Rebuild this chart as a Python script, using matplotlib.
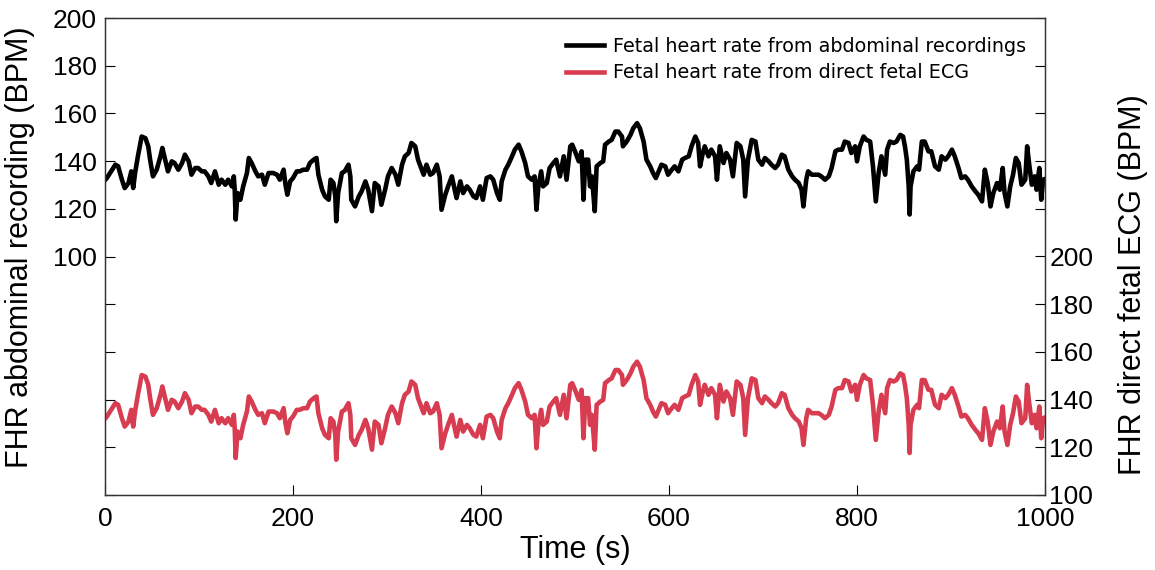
import matplotlib
matplotlib.use("Agg")
from matplotlib import pyplot as plt

# time axis (s) and fetal heart rate (BPM); the abdominal and direct ECG
# estimates coincide at this scale, so one trace feeds both axes
time_s = [
    0, 2, 11, 14, 18, 21, 25, 28, 30, 32, 35, 39, 43, 46, 48, 51, 55, 59, 61, 64,
    67, 71, 74, 78, 82, 85, 89, 92, 96, 99, 103, 106, 110, 113, 117, 121, 124, 128,
    131, 135, 137, 138, 139, 141, 144, 147, 151, 153, 156, 160,
    163, 167, 170, 174, 179, 183, 186, 190, 192, 194, 197, 200, 204, 207, 211, 215,
    218, 222, 225, 227, 231, 234, 238, 240, 243, 245, 246, 248, 252, 255, 259, 261,
    262, 266, 270, 273, 277, 280, 284, 287, 291, 294, 298, 301, 305, 309, 312, 316,
    319, 323, 326, 330, 333,
    335, 339, 342, 346, 349, 353, 356, 358, 362, 365, 369, 372, 374, 378, 381, 385,
    388, 392, 395, 399, 402, 406, 410, 413, 417, 420, 422, 426, 429, 433, 436, 440,
    443, 447, 450, 454, 457, 459, 461, 464, 466, 470, 473, 477, 480, 484, 488, 491, 495,
    497, 500, 504, 507, 509, 511, 514, 516, 518, 521, 523, 527, 530, 532, 536, 539,
    543, 546, 550, 551, 555, 559, 562, 566, 569, 573, 576, 580, 583, 586, 589, 592,
    596, 599, 603, 606, 610, 614, 617, 621, 624, 628, 631, 633, 636, 638, 642, 645,
    649, 651, 654, 658, 661,
    665, 668, 672, 676, 679, 681, 684, 688, 692, 695, 699, 702, 706, 709, 713, 716,
    720, 723, 727, 731, 734, 738, 741, 743, 746, 748, 752, 755, 759, 762, 766, 770,
    773, 777, 780, 784, 787, 791, 794, 798, 800, 803, 807, 810, 814, 817, 820, 823, 826,
    830, 832, 835, 839, 842, 846, 849, 851, 853, 855, 856, 857, 860, 864, 866, 869,
    872, 876, 879, 883, 887, 890, 894, 897, 901, 904, 908, 911, 915, 918, 922, 926,
    929, 933, 936, 939, 942, 945, 949, 952, 955, 957, 960, 963, 966, 969, 972, 975,
    979, 981, 983, 986, 989, 991, 994, 996, 998, 1000,
]

fhr_bpm = [
    132.0, 132.9, 138.5, 137.8, 132.2, 128.7, 130.8, 135.7, 128.7, 135.0, 142.0, 150.3,
    149.6, 146.2, 140.6, 133.6, 136.4, 142.0, 145.5, 140.6, 135.7, 139.9, 139.2, 136.4,
    139.2, 142.7, 139.9, 134.3, 137.1, 137.1, 135.7, 135.7, 133.6, 130.8, 135.7, 130.1,
    132.2, 130.1, 132.2, 129.4, 133.6, 128.0, 115.5, 126.6, 123.8, 129.4, 135.0, 141.3,
    139.2, 135.7,
    133.6, 134.3, 130.1, 135.0, 135.0, 134.3, 132.2, 136.4, 130.1, 125.9, 131.5, 132.9,
    135.7, 135.7, 136.4, 136.4, 139.2, 140.6, 141.3, 134.3, 128.0, 125.2, 123.8, 132.2,
    130.8, 125.2, 114.8, 126.6, 135.0, 135.7, 138.5, 133.6, 123.8, 121.0, 125.2, 127.3,
    131.5, 128.0, 119.0, 130.8, 129.4, 121.7, 128.0, 133.6, 137.1, 134.3, 130.1, 138.5,
    142.0, 143.4, 147.6, 146.2, 140.6,
    138.5, 134.3, 138.5, 134.3, 135.0, 138.5, 133.6, 119.6, 125.9, 129.4, 133.6, 128.0,
    124.5, 131.5, 126.6, 129.4, 128.0, 125.2, 124.5, 129.4, 123.8, 132.9, 133.6, 132.2,
    126.6, 123.8, 131.5, 136.4, 138.5, 142.0, 144.8, 146.9, 144.1, 139.2, 133.6, 132.2,
    133.6, 119.6, 129.4, 135.7, 129.4, 130.8, 137.1, 139.2, 140.6, 133.6, 142.0, 132.2,
    146.2,
    146.9, 144.1, 139.9, 144.1, 123.8, 140.6, 140.6, 129.4, 133.6, 119.0, 137.8, 139.2,
    139.9, 146.9, 148.2, 148.9, 152.4, 152.4, 150.3, 146.2, 148.2, 151.0, 153.8, 155.9,
    153.8, 148.2, 140.6, 137.8, 135.0, 132.9, 135.7, 138.5, 137.8, 134.3, 136.4, 137.8,
    135.7, 140.6, 141.3, 142.0, 146.2, 150.3, 147.6, 137.8, 143.4, 146.2, 142.0, 144.8,
    142.0, 132.2, 146.2, 139.2, 143.4,
    140.6, 133.6, 147.6, 146.2, 140.6, 125.2, 140.6, 148.9, 148.2, 140.6, 138.5, 141.3,
    139.9, 138.5, 137.1, 138.5, 142.7, 142.0, 136.4, 133.6, 132.2, 130.8, 128.0, 121.0,
    132.2, 135.7, 134.3, 134.3, 134.3, 133.6, 132.2, 133.6, 137.1, 144.1, 144.8, 144.8,
    148.2, 147.6, 143.4, 146.2, 139.9, 146.2, 150.3, 148.9, 148.2, 137.8, 123.1, 135.0,
    142.0,
    134.3, 144.8, 148.2, 147.6, 148.2, 151.0, 150.3, 146.2, 140.6, 129.4, 117.6, 129.4,
    135.7, 137.8, 136.4, 148.2, 148.2, 144.1, 144.1, 137.8, 136.4, 142.0, 140.6, 142.0,
    144.8, 142.0, 137.1, 132.9, 133.6, 132.2, 129.4, 127.3, 125.9, 123.1, 136.4, 130.8,
    121.0, 126.6, 130.8, 128.0, 137.1, 126.6, 121.0, 129.4, 134.3, 141.3, 139.2, 130.1,
    132.2, 146.2, 139.2, 130.1, 133.6, 128.0, 137.1, 123.8, 132.2, 132.5,
]

left_ticks = list(range(0, 201, 20))
right_ticks = list(range(100, 301, 20))
x_ticks = [0, 200, 400, 600, 800, 1000]

red = "#d83c50"
plt.rcParams["font.family"] = ["Liberation Sans", "DejaVu Sans"]

fig = plt.figure(figsize=(11.55, 5.70), dpi=100)
ax = fig.add_axes([105 / 1155, 1 - 495 / 570, 940 / 1155, 477 / 570])
ax2 = ax.twinx()

l1, = ax.plot(time_s, fhr_bpm, color="black", lw=3.3,
              label="Fetal heart rate from abdominal recordings")
l2, = ax2.plot(time_s, fhr_bpm, color=red, lw=3.3,
               label="Fetal heart rate from direct fetal ECG")

ax.set_xlim(0, 1000)
ax.set_ylim(0, 200)
ax2.set_ylim(100, 300)
ax.set_xticks(x_ticks)
ax.set_xticklabels([str(t) for t in x_ticks])
ax.set_yticks(left_ticks)
ax.set_yticklabels([str(v) if v >= 100 else "" for v in left_ticks])
ax2.set_yticks(right_ticks)
ax2.set_yticklabels([str(v) if v <= 200 else "" for v in right_ticks])

ax.tick_params(direction="in", length=7, width=0.8, labelsize=19, top=False, right=False)
ax.tick_params(axis="x", pad=9)
ax.tick_params(axis="y", pad=6)
ax2.tick_params(direction="in", length=7, width=0.8, labelsize=19, pad=3)
for a in (ax, ax2):
    for s in a.spines.values():
        s.set_linewidth(0.9)
        s.set_color("#333333")

ax.set_xlabel("Time (s)", fontsize=22)
ax.set_ylabel("FHR abdominal recording (BPM)", fontsize=22)
ax2.set_ylabel("FHR direct fetal ECG (BPM)", fontsize=22)
ax.xaxis.set_label_coords(0.5, -0.084)
ax.yaxis.set_label_coords(-0.0745, 0.52)
ax2.yaxis.set_label_coords(1.0777, 0.44)

ax2.legend(handles=[l1, l2], loc="upper right", frameon=False,
           prop={"family": "DejaVu Sans", "size": 13.8},
           handlelength=1.95, handletextpad=0.5, labelspacing=0.4,
           borderaxespad=0.58)

fig.savefig("out.png", dpi=100)
